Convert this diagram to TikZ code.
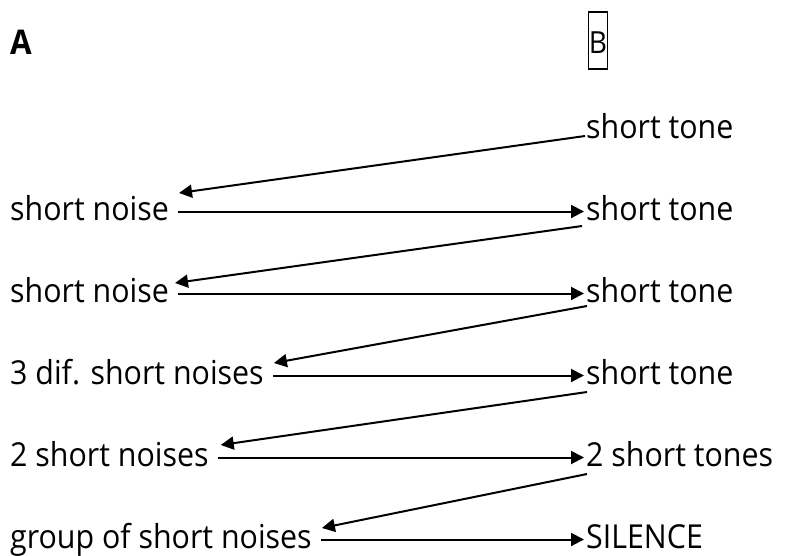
\documentclass[tikz,border=0pt]{standalone}
\usepackage{fontspec}
\setmainfont{Open Sans}[FakeStretch=0.92]
\usetikzlibrary{arrows.meta}
\tikzset{
  lbl/.style={inner sep=0pt, font=\fontsize{33pt}{40pt}\selectfont},
  lft/.style={lbl, anchor=base west},
  rgt/.style={lbl, anchor=base west},
  arr/.style={line width=2pt, -{Triangle[length=13pt,width=13pt]}},
}
\begin{document}
\begin{tikzpicture}[x=1pt,y=-1pt]
\useasboundingbox (0,0) rectangle (787,555);
% headings
\node[anchor=base west, inner sep=0pt, font=\fontsize{34pt}{40pt}\selectfont\bfseries] (A) at (10,54) {A};
\node[draw, line width=1.6pt, anchor=base, text height=41pt, text depth=16pt, inner ysep=0pt, inner xsep=0.5pt, font=\fontsize{30.5pt}{36pt}\selectfont] (B) at (598,53) {B};
% right column
\node[rgt] (t0) at (586,138) {short tone};
\node[rgt] (t1) at (586,220) {short tone};
\node[rgt] (t2) at (586,302) {short tone};
\node[rgt] (t3) at (586,384) {short tone};
\node[rgt] (t4) at (586,466) {2 short tones};
\node[rgt] (t5) at (586,548) {SILENCE};
% left column
\node[lft] (n1) at (10,220) {short noise};
\node[lft] (n2) at (10,302) {short noise};
\node[lft] (n3) at (10,384) {3 dif. short noises};
\node[lft] (n4) at (10,466) {2 short noises};
\node[lft] (n5) at (10,548) {group of short noises};
% horizontal arrows
\draw[arr] ([xshift=9pt,yshift=8.5pt]n1.base east) -- ([xshift=-2pt,yshift=8.5pt]t1.base west);
\draw[arr] ([xshift=9pt,yshift=8.5pt]n2.base east) -- ([xshift=-2pt,yshift=8.5pt]t2.base west);
\draw[arr] ([xshift=9pt,yshift=8.5pt]n3.base east) -- ([xshift=-2pt,yshift=8.5pt]t3.base west);
\draw[arr] ([xshift=9pt,yshift=8.5pt]n4.base east) -- ([xshift=-2pt,yshift=8.5pt]t4.base west);
\draw[arr] ([xshift=9pt,yshift=8.5pt]n5.base east) -- ([xshift=-2pt,yshift=8.5pt]t5.base west);
% diagonal arrows
\draw[arr] ([xshift=-1pt,yshift=2pt]t0.base west) -- ([xshift=10pt,yshift=27pt]n1.base east);
\draw[arr] ([xshift=-4pt,yshift=-6pt]t1.base west) -- ([xshift=6pt,yshift=19pt]n2.base east);
\draw[arr] ([xshift=1pt,yshift=-4pt]t2.base west) -- ([xshift=10pt,yshift=21pt]n3.base east);
\draw[arr] ([xshift=1pt,yshift=-8pt]t3.base west) -- ([xshift=12pt,yshift=21pt]n4.base east);
\draw[arr] ([xshift=1pt,yshift=-8pt]t4.base west) -- ([xshift=10pt,yshift=20pt]n5.base east);
\end{tikzpicture}
\end{document}
